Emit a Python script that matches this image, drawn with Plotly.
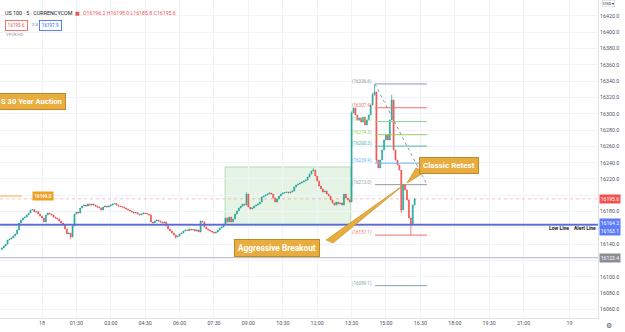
import plotly.graph_objects as go

# ---------------- data ----------------
bar_index = list(range(-21, 196))          # 5-minute bar index, 0 = 00:00 on the 18th
closes = [
    16135.3, 16137.7, 16140.2, 16145.1, 16146.3, 16147.6, 16150.0, 16152.5, 16157.4, 16166.0,
    16169.6, 16172.1, 16173.3, 16175.8, 16178.2, 16181.9, 16182.5, 16179.4, 16180.0, 16177.0,
    16174.5, 16172.1, 16167.2, 16175.8, 16178.2, 16177.0, 16175.8, 16173.3, 16172.1, 16170.9,
    16168.4, 16166.0, 16163.5, 16158.6, 16152.5, 16153.7, 16148.8, 16162.3, 16177.0, 16179.4,
    16178.2, 16184.4, 16186.8, 16188.0, 16186.8, 16189.3, 16188.0, 16189.3, 16188.0, 16186.8,
    16185.6, 16184.4, 16181.9, 16185.6, 16186.8, 16185.6, 16186.8, 16188.0, 16189.3, 16189.8,
    16188.0, 16186.8, 16186.2, 16185.6, 16184.4, 16183.1, 16181.9, 16180.7, 16179.4, 16178.2,
    16178.8, 16177.0, 16175.8, 16177.0, 16178.2, 16177.6, 16177.0, 16175.8, 16167.2, 16166.0,
    16168.4, 16169.6, 16168.4, 16167.2, 16166.0, 16167.2, 16162.3, 16158.6, 16156.1, 16153.7,
    16151.2, 16148.8, 16150.0, 16152.5, 16153.7, 16156.1, 16157.4, 16156.8, 16158.6, 16157.4,
    16158.0, 16156.1, 16157.4, 16154.9, 16168.4, 16167.2, 16161.0, 16158.6, 16157.4, 16156.1,
    16154.9, 16153.7, 16154.9, 16157.4, 16159.8, 16161.0, 16164.7, 16172.1, 16167.2, 16173.3,
    16167.2, 16170.9, 16177.0, 16180.7, 16184.4, 16186.8, 16189.3, 16188.0, 16201.5, 16185.6,
    16183.1, 16184.4, 16186.8, 16188.0, 16189.3, 16191.7, 16197.9, 16199.1, 16200.3, 16201.5,
    16202.8, 16201.5, 16196.6, 16191.7, 16195.4, 16199.1, 16201.5, 16202.8, 16203.4, 16204.0,
    16202.8, 16204.0, 16205.2, 16210.1, 16212.6, 16213.8, 16215.0, 16216.3, 16217.5, 16218.7,
    16222.4, 16226.1, 16229.8, 16231.0, 16223.6, 16217.5, 16211.4, 16207.7, 16204.0, 16205.2,
    16201.5, 16199.1, 16194.2, 16190.5, 16188.0, 16191.7, 16189.3, 16190.5, 16188.0, 16201.5,
    16196.6, 16194.2, 16191.7, 16301.0, 16307.1, 16298.5, 16292.4, 16294.8, 16289.9, 16296.0,
    16286.2, 16292.4, 16298.5, 16310.8, 16323.0, 16326.8, 16243.3, 16233.5, 16243.3, 16255.5,
    16267.8, 16273.9, 16267.8, 16292.4, 16316.9, 16255.5, 16243.3, 16237.1, 16231.0, 16181.9,
    16212.6, 16206.5, 16194.2, 16172.1, 16163.5, 16188.0, 16195.6,
]
first_open = 16133.8
wick_highs = {107: 16203.5, 142: 16233.0, 162: 16303.0, 173: 16325.5, 174: 16336.6, 183: 16323.5}
wick_lows = {-21: 16132.5, 15: 16146.0, 70: 16146.5, 175: 16240.0, 188: 16178.0, 193: 16151.1}

tick_labels = ["18", "01:30", "03:00", "04:30", "06:00", "07:30", "09:00", "10:30",
               "12:00", "13:30", "15:00", "16:30", "18:00", "19:30", "21:00", "19"]
tick_bars = [0, 18, 36, 54, 72, 90, 108, 126, 144, 162, 180, 198, 216, 234, 252, 276]
# labels hidden behind the axis price tags (16120, 16160, 16200) keep only their grid lines
price_ticks = [16060, 16080, 16100, 16140, 16180, 16220, 16240,
               16260, 16280, 16300, 16320, 16340, 16360, 16380, 16400, 16420]
hidden_price_ticks = [16120, 16160, 16200]

fib_levels = [16336.6, 16307.4, 16290.4, 16274.3, 16260.3, 16239.4, 16213.0, 16151.1, 16089.1]
fib_colors = ["#9598a1", "#ef6f6c", "#8fd18f", "#9ccc65", "#4db6ac", "#64b5f6",
              "#9598a1", "#ef6f6c", "#80a8a0"]

last_price = 16195.6
alert_line = 16164.2
alert_line2 = 16163.1
low_line = 16123.4
level_left = 16199.0
box_top = 16234.7

# ---------------- derived ohlc ----------------
opens = [first_open] + closes[:-1]
highs = [max(o, c) for o, c in zip(opens, closes)]
lows = [min(o, c) for o, c in zip(opens, closes)]
for i, b in enumerate(bar_index):
    if b in wick_highs:
        highs[i] = max(highs[i], wick_highs[b])
    if b in wick_lows:
        lows[i] = min(lows[i], wick_lows[b])

UP, DOWN = "#26a69a", "#ef5350"
FONT = "Roboto"
GRID = "#f0f3fa"
PW, PH = 598, 318
X0, X1 = -21.98, 290.95
Y0, Y1 = 16049.4, 16439.6


def px(xp):
    return X0 + (X1 - X0) * xp / PW


def pr(yp):
    return Y1 - (Y1 - Y0) * yp / PH


def pxp(xp):
    return xp / PW


def pyp(yp):
    return 1 - yp / PH


fig = go.Figure()
fig.add_trace(go.Candlestick(
    x=bar_index, open=opens, high=highs, low=lows, close=closes,
    increasing=dict(line=dict(color=UP, width=0.7), fillcolor=UP),
    decreasing=dict(line=dict(color=DOWN, width=0.7), fillcolor=DOWN),
    whiskerwidth=0, showlegend=False, hoverinfo="skip"))

shapes = []
ann = []

# green range box
shapes.append(dict(type="rect", xref="x", yref="y", x0=95.8, x1=161.6, y0=alert_line, y1=box_top,
                   fillcolor="rgba(129,199,132,0.2)", line=dict(color="rgba(129,199,132,0.55)", width=1),
                   layer="below"))
# horizontal lines
shapes.append(dict(type="line", xref="paper", yref="y", x0=0, x1=1, y0=last_price, y1=last_price,
                   line=dict(color="rgba(239,83,80,0.35)", width=1, dash="dot")))
shapes.append(dict(type="line", xref="paper", yref="y", x0=0, x1=1, y0=low_line, y1=low_line,
                   line=dict(color="#b2b5be", width=1)))
shapes.append(dict(type="line", xref="paper", yref="y", x0=0, x1=1, y0=alert_line2, y1=alert_line2,
                   line=dict(color="rgba(92,107,214,0.7)", width=1)))
shapes.append(dict(type="line", xref="paper", yref="y", x0=0, x1=1, y0=alert_line, y1=alert_line,
                   line=dict(color="#5c6bd6", width=1.6)))
shapes.append(dict(type="line", xref="x", yref="y", x0=X0, x1=px(22), y0=level_left, y1=level_left,
                   line=dict(color="rgba(245,170,50,0.6)", width=1.5)))
# fib levels
for lv, col in zip(fib_levels, fib_colors):
    shapes.append(dict(type="line", xref="x", yref="y", x0=px(375), x1=px(427), y0=lv, y1=lv,
                       line=dict(color=col, width=1)))
    ann.append(dict(xref="x", yref="y", x=px(374), y=lv, xanchor="right", yanchor="middle",
                    yshift=2.5, text="(%.1f)" % lv, showarrow=False,
                    font=dict(family=FONT, size=4.5, color=col)))
shapes.append(dict(type="line", xref="x", yref="y", x0=px(375), x1=px(427), y0=fib_levels[0], y1=fib_levels[6],
                   line=dict(color="#9598a1", width=1, dash="dot")))

# callout pointers
GOLD, GOLD_D = "#e8ad3e", "#bf8a25"
shapes.append(dict(type="path", xref="x", yref="y",
                   path="M %f,%f L %f,%f L %f,%f Z" % (px(326), pr(240), px(405), pr(184), px(333), pr(243)),
                   fillcolor=GOLD, line=dict(color=GOLD_D, width=0.6)))
shapes.append(dict(type="path", xref="x", yref="y",
                   path="M %f,%f L %f,%f L %f,%f Z" % (px(416), pr(168), px(407), pr(183), px(425), pr(172)),
                   fillcolor=GOLD, line=dict(color=GOLD_D, width=0.6)))

# callout boxes
ann.append(dict(xref="x", yref="y", x=px(276.5), y=pr(248), text="<b>Aggressive Breakout</b>",
                showarrow=False, bgcolor=GOLD, bordercolor=GOLD_D, borderwidth=1, borderpad=3,
                font=dict(family=FONT, size=8.3, color="white")))
ann.append(dict(xref="x", yref="y", x=px(448.5), y=pr(165.5), text="<b>Classic Retest</b>",
                showarrow=False, bgcolor=GOLD, bordercolor=GOLD_D, borderwidth=1, borderpad=3,
                font=dict(family=FONT, size=8, color="white")))
ann.append(dict(xref="paper", yref="paper", x=pxp(-3), y=pyp(92.5), xanchor="left",
                text="<b>S 30 Year Auction</b>", showarrow=False, bgcolor=GOLD, bordercolor=GOLD_D,
                borderwidth=1, borderpad=3, font=dict(family=FONT, size=7.6, color="white")))

# left level label
ann.append(dict(xref="paper", yref="y", x=pxp(32), y=level_left, text="<b>%.1f</b>" % level_left,
                showarrow=False, bgcolor="#f0a020", borderpad=1.5,
                font=dict(family=FONT, size=4.5, color="white")))


# axis price tags
def tag(price, text, bg, ys=0):
    ann.append(dict(xref="paper", yref="y", x=1, xanchor="left", xshift=1, y=price, yshift=ys,
                    text=text, showarrow=False, bgcolor=bg, borderpad=0.8,
                    font=dict(family=FONT, size=5.0, color="white")))


tag(last_price, "%.1f" % last_price, "#ef5350")
tag(alert_line, "%.1f" % alert_line, "#5c7cfa", ys=1)
tag(alert_line2, "%.1f" % alert_line2, "#5c7cfa", ys=-6)
tag(low_line, "%.1f" % low_line, "#8a8d96")

# line names near axis
ann.append(dict(xref="paper", yref="y", x=pxp(571), xanchor="right", y=alert_line, yshift=-3.5,
                text="<b>Low Line</b>", showarrow=False, font=dict(family=FONT, size=5.0, color="#131722")))
ann.append(dict(xref="paper", yref="y", x=pxp(572), xanchor="left", y=alert_line, yshift=-3.5,
                text="<b>Alert Line</b>", showarrow=False, font=dict(family=FONT, size=5.0, color="#131722")))

# currency box + gear
ann.append(dict(xref="paper", yref="paper", x=1, xanchor="left", xshift=4, y=1, yanchor="top",
                text="USD ▾", showarrow=False, bordercolor="#d1d4dc", borderwidth=0.6, borderpad=0.5,
                font=dict(family=FONT, size=4.3, color="#131722")))
ann.append(dict(xref="paper", yref="paper", x=1, xanchor="left", xshift=6, y=0, yanchor="top", yshift=-2,
                text="⚙", showarrow=False, font=dict(family="DejaVu Sans", size=7, color="#50535e")))

# header legend
ann.append(dict(xref="paper", yref="paper", x=pxp(3), y=pyp(8), xanchor="left",
                text="US 100 · 5 · CURRENCYCOM", showarrow=False,
                font=dict(family=FONT, size=5.4, color="#131722")))
ann.append(dict(xref="paper", yref="paper", x=pxp(73), y=pyp(8), xanchor="left",
                text="■", showarrow=False, font=dict(family="DejaVu Sans", size=5.0, color="#ef5350")))
ann.append(dict(xref="paper", yref="paper", x=pxp(81), y=pyp(8), xanchor="left", showarrow=False,
                text="O16196.2 H16198.0 L16185.8 C16195.6",
                font=dict(family=FONT, size=5.2, color="#ef5350")))
ann.append(dict(xref="paper", yref="paper", x=pxp(5), y=pyp(20), xanchor="left", showarrow=False,
                text="16195.6", bordercolor="#ef5350", borderwidth=0.8, borderpad=2,
                font=dict(family=FONT, size=4.6, color="#ef5350")))
ann.append(dict(xref="paper", yref="paper", x=pxp(30), y=pyp(20), xanchor="left", showarrow=False,
                text="2.3", font=dict(family=FONT, size=4.2, color="#50535e")))
ann.append(dict(xref="paper", yref="paper", x=pxp(39), y=pyp(20), xanchor="left", showarrow=False,
                text="16197.9", bordercolor="#2962ff", borderwidth=0.8, borderpad=2,
                font=dict(family=FONT, size=4.6, color="#2962ff")))
ann.append(dict(xref="paper", yref="paper", x=pxp(4), y=pyp(29.5), xanchor="left", showarrow=False,
                text="VPVR HD", font=dict(family=FONT, size=4.2, color="#9598a1")))

fig.update_layout(
    width=625, height=332, margin=dict(l=0, r=27, t=0, b=14),
    paper_bgcolor="white", plot_bgcolor="white",
    shapes=shapes, annotations=ann, showlegend=False,
    xaxis=dict(range=[X0, X1], tickvals=tick_bars, ticktext=tick_labels, showgrid=True,
               gridcolor=GRID, gridwidth=1, zeroline=False, ticks="", showline=True,
               linecolor="#e0e3eb", tickfont=dict(family=FONT, size=5.3, color="#50535e"),
               rangeslider=dict(visible=False), fixedrange=True),
    yaxis=dict(range=[Y0, Y1], side="right", tickvals=price_ticks, tickformat=".1f", showgrid=True,
               gridcolor=GRID, gridwidth=1, zeroline=False, ticks="", showline=True,
               linecolor="#e0e3eb", tickfont=dict(family=FONT, size=5.3, color="#50535e"),
               minor=dict(tickvals=hidden_price_ticks, showgrid=True, gridcolor=GRID, gridwidth=1, ticks="")),
)

fig.write_html("out.html")
